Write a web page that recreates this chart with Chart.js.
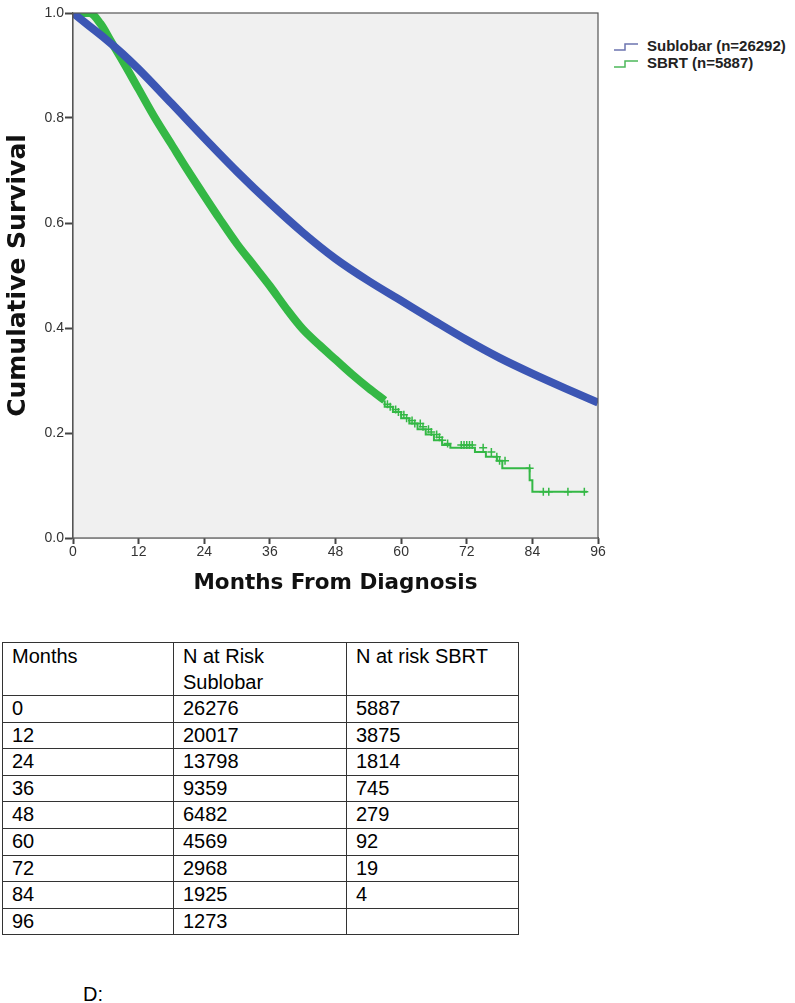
<!DOCTYPE html>
<html>
<head>
<meta charset="utf-8">
<script src="https://cdn.jsdelivr.net/npm/chart.js@4.4.1/dist/chart.umd.min.js"></script>
<style>
  body { margin: 0; background: #fff; font-family: "Liberation Sans", Arial, sans-serif; }
  #wrap { position: relative; width: 795px; height: 1003px; overflow: hidden; }
  #km { position: absolute; left: 0; top: 0; }
  .legend { position: absolute; left: 613px; top: 37px; font-size: 15px; font-weight: bold; color: #222; }
  .legend div { height: 17px; line-height: 17px; white-space: nowrap; }
  .legend svg { vertical-align: middle; margin-right: 8px; }
  table { position: absolute; left: 2px; top: 642px; border-collapse: collapse; font-size: 20px; color: #000; }
  td { border: 1.5px solid #333; padding: 0 0 0 9px; vertical-align: top; height: 25.6px; line-height: 25px; }
  td.c1 { width: 161px; } td.c2 { width: 163px; } td.c3 { width: 162px; }
  tr.head td { height: 49px; line-height: 26px; padding-top: 0; }
  #lab { position: absolute; left: 83px; top: 983px; font-size: 20px; }
</style>
</head>
<body>
<div id="wrap">
  <canvas id="km" width="610" height="600"></canvas>
  <div class="legend">
    <div><svg width="26" height="10"><polyline points="1,8 12,8 12,2 25,2" fill="none" stroke="#6c74b0" stroke-width="1.5"/></svg>Sublobar (n=26292)</div>
    <div><svg width="26" height="10"><polyline points="1,8 12,8 12,2 25,2" fill="none" stroke="#4cb85a" stroke-width="1.5"/></svg>SBRT (n=5887)</div>
  </div>
  <table id="risk"></table>
  <div id="lab">D:</div>
</div>
<script>
// survival curves (months, cumulative survival)
const sublobarMonths = [0, 3, 6, 9, 12, 18, 24, 30, 36, 42, 48, 54, 60, 66, 72, 78, 84, 90, 96];
const sublobarSurv = [1.0, 0.975, 0.95, 0.923, 0.893, 0.828, 0.762, 0.698, 0.638, 0.582, 0.532, 0.49, 0.452, 0.414, 0.377, 0.343, 0.313, 0.285, 0.258];

const sbrtMonths = [0, 3, 5, 7, 9, 12, 15, 18, 21, 24, 27, 30, 33, 36, 39, 42, 45, 48, 51, 54, 57];
const sbrtSurv = [1.0, 1.0, 0.98, 0.945, 0.91, 0.855, 0.8, 0.75, 0.70, 0.652, 0.605, 0.56, 0.52, 0.48, 0.437, 0.398, 0.368, 0.34, 0.312, 0.286, 0.262];

// sparse tail of the SBRT curve
const sbrtTailMonths = [57, 58.5, 60, 61.5, 63, 64.5, 66, 67.5, 69, 73.5, 75.5, 77.5, 78.5, 83.5, 84, 85, 94];
const sbrtTailSurv = [0.262, 0.25, 0.24, 0.228, 0.218, 0.207, 0.197, 0.186, 0.177, 0.172, 0.164, 0.155, 0.147, 0.133, 0.11, 0.088, 0.088];

// censor marks on the tail
const censorMonths = [57.5, 58, 59, 59.5, 60.5, 61, 62, 62.5, 63.5, 64, 65, 65.5, 66.5, 67, 67.5, 68.5, 71, 71.5, 72, 72.5, 73, 75, 76.5, 77.5, 78, 79, 83.5, 86, 87, 90.5, 93.5];
const censorSurv = [0.255, 0.25, 0.245, 0.24, 0.235, 0.228, 0.224, 0.218, 0.218, 0.212, 0.207, 0.202, 0.197, 0.192, 0.186, 0.18, 0.177, 0.177, 0.177, 0.177, 0.177, 0.172, 0.164, 0.155, 0.147, 0.147, 0.133, 0.088, 0.088, 0.088, 0.088];

// numbers at risk table
const riskMonths = [0, 12, 24, 36, 48, 60, 72, 84, 96];
const riskSublobar = [26276, 20017, 13798, 9359, 6482, 4569, 2968, 1925, 1273];
const riskSbrt = [5887, 3875, 1814, 745, 279, 92, 19, 4, ""];

const blue = "#3c56b4";
const green = "#34b845";

function pts(xs, ys) {
    return xs.map((x, i) => ({ x: x, y: ys[i] }));
}

const plotBox = {
    id: "plotBox",
    beforeDatasetsDraw(chart) {
        const a = chart.chartArea;
        const ctx = chart.ctx;
        ctx.save();
        ctx.fillStyle = "#f0f0f0";
        ctx.fillRect(a.left, a.top, a.right - a.left, a.bottom - a.top);
        ctx.restore();
    },
    afterDraw(chart) {
        const a = chart.chartArea;
        const ctx = chart.ctx;
        ctx.save();
        ctx.strokeStyle = "#555";
        ctx.lineWidth = 1.2;
        ctx.strokeRect(a.left, a.top, a.right - a.left, a.bottom - a.top);
        ctx.restore();
    }
};

const tickFont = { family: "'Liberation Sans', Arial, sans-serif", size: 14 };
const titleFontX = { family: "'DejaVu Sans', sans-serif", size: 21.5, weight: "bold" };
const titleFontY = { family: "'DejaVu Sans', sans-serif", size: 25, weight: "bold" };

new Chart(document.getElementById("km"), {
    type: "line",
    data: {
        datasets: [
            {
                data: pts(sublobarMonths, sublobarSurv),
                borderColor: blue, borderWidth: 8, pointRadius: 0,
                cubicInterpolationMode: "monotone"
            },
            {
                data: pts(sbrtMonths, sbrtSurv),
                borderColor: green, borderWidth: 8, pointRadius: 0,
                cubicInterpolationMode: "monotone"
            },
            {
                data: pts(sbrtTailMonths, sbrtTailSurv),
                borderColor: green, borderWidth: 2, pointRadius: 0, stepped: "after"
            },
            {
                type: "scatter",
                data: pts(censorMonths, censorSurv),
                pointStyle: "cross", pointRadius: 4, borderWidth: 1.5,
                borderColor: green, backgroundColor: green, showLine: false
            }
        ]
    },
    options: {
        responsive: false,
        animation: false,
        layout: { padding: { top: 13, right: 12, left: 0, bottom: 0 } },
        plugins: { legend: { display: false }, tooltip: { enabled: false } },
        scales: {
            x: {
                type: "linear", min: 0, max: 96,
                afterFit(s) { s.height = 62; },
                border: { display: true, color: "#555", width: 1.2 },
                grid: { display: true, drawOnChartArea: false, drawTicks: true, tickLength: 6, color: "#444", tickWidth: 2 },
                ticks: { stepSize: 12, color: "#333", font: tickFont, padding: 0 },
                title: { display: true, text: "Months From Diagnosis", color: "#111", font: titleFontX, padding: { top: 0 } }
            },
            y: {
                min: 0, max: 1,
                afterFit(s) { s.width = 73; },
                border: { display: true, color: "#555", width: 1.2 },
                grid: { display: true, drawOnChartArea: false, drawTicks: true, tickLength: 8, color: "#444", tickWidth: 2 },
                ticks: { stepSize: 0.2, color: "#333", font: tickFont, padding: 1, callback: v => v.toFixed(1) },
                title: { display: true, text: "Cumulative Survival", color: "#111", font: titleFontY, padding: { top: 3, bottom: 0 } }
            }
        }
    },
    plugins: [plotBox]
});

// risk table
const risk = document.getElementById("risk");
risk.innerHTML = '<tr class="head"><td class="c1">Months</td><td class="c2">N at Risk<br>Sublobar</td><td class="c3">N at risk SBRT</td></tr>';
riskMonths.forEach((m, i) => {
    const row = document.createElement("tr");
    row.innerHTML = `<td>${m}</td><td>${riskSublobar[i]}</td><td>${riskSbrt[i]}</td>`;
    risk.appendChild(row);
});
</script>
</body>
</html>
